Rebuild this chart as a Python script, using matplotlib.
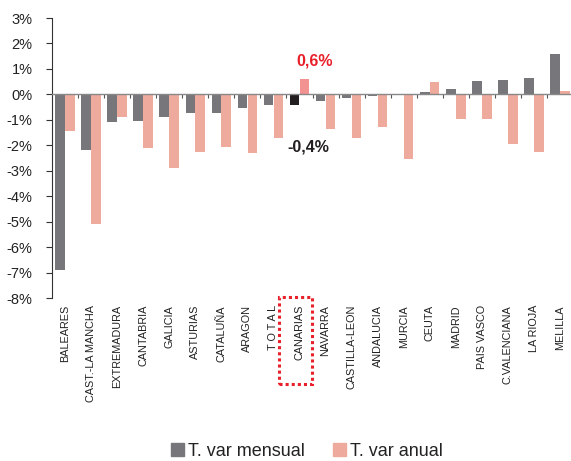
import matplotlib
matplotlib.use("Agg")
import matplotlib.pyplot as plt
from matplotlib.patches import Patch, Rectangle
import matplotlib.transforms as mtransforms
import numpy as np

plt.rcParams['font.family'] = ['Liberation Sans', 'DejaVu Sans']

categories = ["BALEARES", "CAST.-LA MANCHA", "EXTREMADURA", "CANTABRIA", "GALICIA",
              "ASTURIAS", "CATALUÑA", "ARAGON", "T O T A L", "CANARIAS", "NAVARRA",
              "CASTILLA-LEON", "ANDALUCIA", "MURCIA", "CEUTA", "MADRID", "PAIS VASCO",
              "C.VALENCIANA", "LA RIOJA", "MELILLA"]
mensual = [-6.9, -2.2, -1.1, -1.05, -0.9, -0.73, -0.72, -0.55, -0.42, -0.4, -0.27,
           -0.15, -0.07, 0.03, 0.09, 0.23, 0.53, 0.58, 0.66, 1.6]
anual = [-1.45, -5.1, -0.9, -2.1, -2.9, -2.25, -2.07, -2.3, -1.72, 0.6, -1.35,
         -1.72, -1.3, -2.55, 0.47, -0.97, -0.98, -1.95, -2.25, 0.12]
yticks = [3, 2, 1, 0, -1, -2, -3, -4, -5, -6, -7, -8]
highlight = "CANARIAS"

grey = "#77767b"
pink = "#efaa9e"
hl_dark = "#231f20"
hl_pink = "#f29391"

W, H = 571, 461
fig = plt.figure(figsize=(W/100, H/100), dpi=100)
ax = fig.add_axes([52/W, 1-298/H, (573-52)/W, (298-18)/H])

x = np.arange(len(categories))
bw = 0.37
cm = [hl_dark if c == highlight else grey for c in categories]
ca = [hl_pink if c == highlight else pink for c in categories]
ax.bar(x - 0.19, mensual, bw, color=cm, zorder=2)
ax.bar(x + 0.19, anual, bw, color=ca, zorder=2)

ax.set_xlim(-0.5, len(categories) - 0.5)
ax.set_ylim(-8, 3)
ax.set_yticks(yticks)
ax.set_yticklabels([f"{v}%" for v in yticks], fontsize=10.5, color="#222222")
ax.tick_params(axis='y', length=4, width=0.8, pad=10, color="#333333")

ax.spines['top'].set_visible(False)
ax.spines['right'].set_visible(False)
ax.spines['left'].set_color("#333333")
ax.spines['left'].set_linewidth(0.8)
ax.spines['bottom'].set_position(('data', 0))
ax.spines['bottom'].set_color("#888888")
ax.spines['bottom'].set_linewidth(1.0)
ax.spines['bottom'].set_zorder(3)
ax.set_xticks(np.arange(len(categories)) + 0.5)
ax.set_xticklabels([])
ax.tick_params(axis='x', length=3, width=0.8, color="#555555", direction='out')

trans = mtransforms.blended_transform_factory(ax.transData, ax.transAxes)
for i, c in enumerate(categories):
    ax.text(i, -0.025, c, transform=trans, rotation=90, ha='center', va='top',
            fontsize=7.8, color="#222222")

ci = categories.index(highlight)
ax.text(ci + 0.6, anual[ci] + 0.73, "0,6%", ha='center', va='center',
        fontsize=11.5, fontweight='bold', color="#e8202a")
ax.text(ci + 0.33, mensual[ci] - 1.68, "-0,4%", ha='center', va='center',
        fontsize=11.5, fontweight='bold', color="#231f20")

rect = Rectangle((279/W, 1-384/H), (312-279)/W, (384-297)/H, transform=fig.transFigure,
                 fill=False, edgecolor="#e8202a", linestyle=(0, (1, 1)), linewidth=2.2)
fig.patches.append(rect)

handles = [Patch(color=grey, label="T. var mensual"), Patch(color=pink, label="T. var anual")]
fig.legend(handles=handles, loc='center', bbox_to_anchor=(307/W, 1-451/H), ncol=2,
           frameon=False, fontsize=13, handlelength=0.7, handleheight=0.7,
           handletextpad=0.2, columnspacing=1.6, labelcolor="#222222")

fig.savefig("out.png", dpi=100)
